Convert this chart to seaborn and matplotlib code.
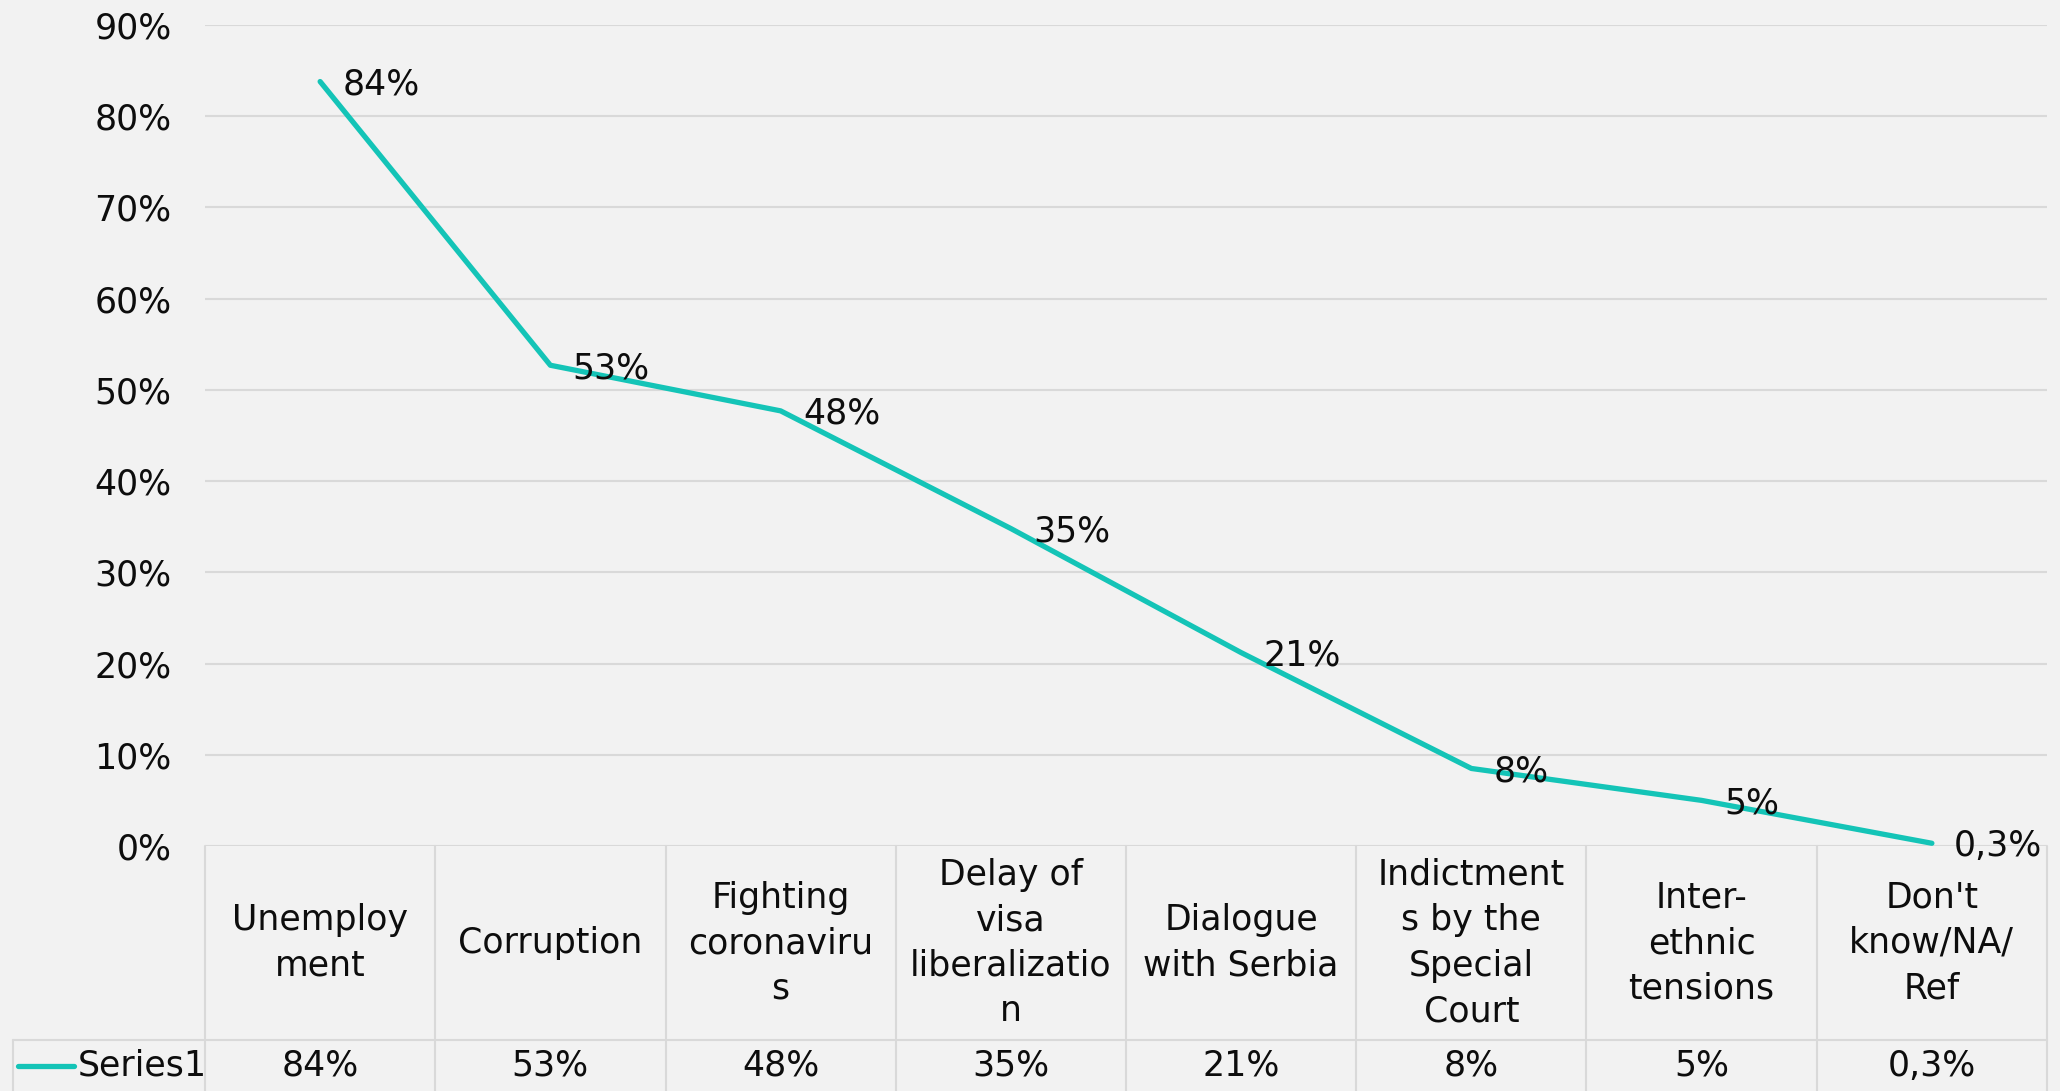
import matplotlib
matplotlib.use("Agg")
import matplotlib.pyplot as plt
import matplotlib.transforms as mtransforms
import seaborn as sns
import pandas as pd

# ---- data ----
categories = ["Unemployment", "Corruption", "Fighting coronavirus",
              "Delay of visa liberalization", "Dialogue with Serbia",
              "Indictments by the Special Court", "Inter-ethnic tensions",
              "Don't know/NA/Ref"]
header_labels = ["Unemploy\nment", "Corruption", "Fighting\ncoronaviru\ns",
                 "Delay of\nvisa\nliberalizatio\nn", "Dialogue\nwith Serbia",
                 "Indictment\ns by the\nSpecial\nCourt", "Inter-\nethnic\ntensions",
                 "Don't\nknow/NA/\nRef"]
values = [83.8, 52.7, 47.7, 34.8, 21.2, 8.5, 5.0, 0.3]
value_labels = ["84%", "53%", "48%", "35%", "21%", "8%", "5%", "0,3%"]
series_name = "Series1"
y_ticks = [0, 10, 20, 30, 40, 50, 60, 70, 80, 90]

# ---- style ----
BG = "#F2F2F2"
GRID = "#D9D9D9"
LINE = "#14C4B7"
TXT = "#0D0D0D"
FS = 25
LW = 3.8

sns.set_theme(style="whitegrid")
plt.rcParams["font.family"] = ["DejaVu Sans"]

W, H = 2060, 1091
fig = plt.figure(figsize=(W / 100, H / 100), dpi=100, facecolor=BG)
left_px, right_px, top_px, bottom_px = 205, 2047, 25, 846
ax = fig.add_axes([left_px / W, (H - bottom_px) / H,
                   (right_px - left_px) / W, (bottom_px - top_px) / H])
ax.set_facecolor(BG)

df = pd.DataFrame({"category": categories, "value": values})
sns.lineplot(data=df, x="category", y="value", sort=False, ax=ax,
             color=LINE, linewidth=LW, solid_capstyle="round")

ax.set_xlim(-0.5, len(categories) - 0.5)
ax.set_ylim(0, 90)
ax.set_yticks(y_ticks)
ax.set_yticklabels([f"{t}%" for t in y_ticks], fontsize=FS, color=TXT)
ax.tick_params(axis="y", length=0, pad=24)
ax.tick_params(axis="x", length=0, labelbottom=False)
ax.set_xlabel("")
ax.set_ylabel("")
ax.grid(axis="y", color=GRID, linewidth=1.5)
ax.grid(axis="x", visible=False)
for s in ax.spines.values():
    s.set_visible(False)

# data labels
for i, (v, lab) in enumerate(zip(values, value_labels)):
    ax.annotate(lab, (i, v), xytext=(16, -2), textcoords="offset points",
                ha="left", va="center", fontsize=FS, color=TXT)

# ---- data table below the axes ----
ax_h = bottom_px - top_px
ax_w = right_px - left_px
row1_bottom = -(1040 - bottom_px) / ax_h
row2_bottom = -(H - bottom_px) / ax_h
legend_left = -(left_px - 13) / ax_w

trans = mtransforms.blended_transform_factory(ax.transData, ax.transAxes)
n = len(categories)
for k in range(n + 1):
    ax.plot([k - 0.5, k - 0.5], [0, row2_bottom], transform=trans,
            color=GRID, linewidth=1.5, clip_on=False)
ax.plot([legend_left, 1], [row1_bottom, row1_bottom], transform=ax.transAxes,
        color=GRID, linewidth=1.5, clip_on=False)
ax.plot([legend_left, legend_left], [row1_bottom, row2_bottom],
        transform=ax.transAxes, color=GRID, linewidth=1.5, clip_on=False)

hdr_mid = row1_bottom / 2
val_mid = (row1_bottom + row2_bottom) / 2
for i, (h, lab) in enumerate(zip(header_labels, value_labels)):
    ax.text(i, hdr_mid, h, transform=trans, ha="center", va="center",
            fontsize=FS, color=TXT, linespacing=1.42, clip_on=False)
    ax.text(i, val_mid, lab, transform=trans, ha="center", va="center",
            fontsize=FS, color=TXT, clip_on=False)

# legend key in the table
x0 = legend_left + (18 - 13) / ax_w
x1 = legend_left + (74 - 13) / ax_w
ax.plot([x0, x1], [val_mid, val_mid], transform=ax.transAxes, color=LINE,
        linewidth=LW, solid_capstyle="round", clip_on=False)
ax.text(legend_left + (78 - 13) / ax_w, val_mid, series_name,
        transform=ax.transAxes, ha="left", va="center", fontsize=FS,
        color=TXT, clip_on=False)

fig.savefig("out.png", dpi=100, facecolor=BG)
